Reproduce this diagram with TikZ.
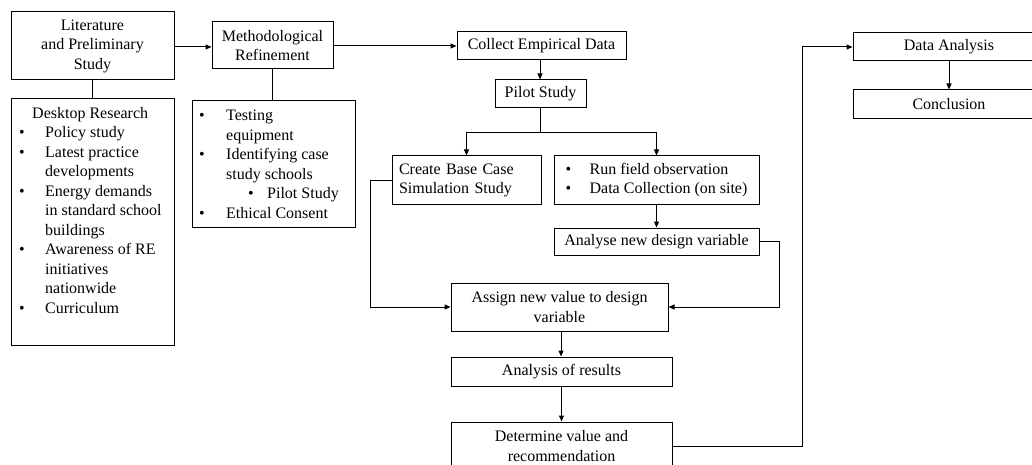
\documentclass[tikz,border=0pt]{standalone}
\usepackage{fontspec}
\setmainfont{Liberation Serif}
\usetikzlibrary{arrows.meta,calc}
\newcommand\bulx[1][25pt]{\makebox[#1][l]{\textbullet}}
\newcommand\indx[1][25pt]{\hspace*{#1}}
\begin{document}
\begin{tikzpicture}[x=1pt,y=-1pt,
 box/.style={draw, line width=1pt, inner sep=0pt, align=center, font=\fontsize{16}{19.5}\selectfont},
 txt/.style={inner sep=0pt, font=\fontsize{16}{19.5}\selectfont},
 arr/.style={line width=1pt, -{Triangle[length=6pt,width=5pt]}},
 ln/.style={line width=1pt}]
\useasboundingbox (0,0) rectangle (1032,465);
\clip (0,0) rectangle (1032,465);
% boxes
\node[box, minimum width=163pt, minimum height=68pt] (lit) at (92.5,46) {Literature\\and Preliminary\\Study};
\node[box, minimum width=121pt, minimum height=47pt] (meth) at (272.5,45.5) {Methodological\\Refinement};
\node[box, minimum width=163pt, minimum height=246pt] (desk) at (92.5,222) {};
\node[box, minimum width=163pt, minimum height=126pt] (methsub) at (273.5,164) {};
\node[txt, anchor=base west] (desktxt) at (19,118.5) {\begin{tabular}[t]{@{}l@{}}
\hspace*{13pt}Desktop Research\\
\bulx[26pt]Policy study\\
\bulx[26pt]Latest practice\\
\indx[26pt]developments\\
\bulx[26pt]Energy demands\\
\indx[26pt]in standard school\\
\indx[26pt]buildings\\
\bulx[26pt]Awareness of RE\\
\indx[26pt]initiatives\\
\indx[26pt]nationwide\\
\bulx[26pt]Curriculum
\end{tabular}};
\node[txt, anchor=base west] (methtxt) at (199,121) {\begin{tabular}[t]{@{}l@{}}
\bulx[27pt]Testing\\
\indx[27pt]equipment\\
\bulx[27pt]Identifying case\\
\indx[27pt]study schools\\
\hspace*{49pt}\bulx[19pt]Pilot Study\\
\bulx[27pt]Ethical Consent
\end{tabular}};
\node[box, minimum width=169pt, minimum height=28pt] (collect) at (541.5,46) {Collect Empirical Data};
\node[box, minimum width=91pt, minimum height=28pt] (pilot) at (540.5,94) {Pilot Study};
\node[box, text width=135pt, align=left, inner xsep=7pt, minimum height=48pt] (create) at (466.5,180) {\begin{tabular}{@{}l@{}}Create Base Case\\Simulation Study\end{tabular}};
\node[box, align=left, minimum width=205pt, minimum height=48pt] (run) at (656.5,180) {\bulx[24pt]Run field observation\\\bulx[24pt]Data Collection (on site)};
\node[box, minimum width=205pt, minimum height=27pt] (analyse) at (656.5,241.5) {Analyse new design variable};
\node[box, minimum width=217pt, minimum height=48pt] (assign) at (559.5,307) {Assign new value to design\\variable};
\node[box, minimum width=221pt, minimum height=29pt] (results) at (561.5,371.5) {Analysis of results};
\node[box, minimum width=221pt, minimum height=48pt] (det) at (561.5,446) {Determine value and\\recommendation};
\node[box, minimum width=192pt, minimum height=28pt] (data) at (949,47) {Data Analysis};
\node[box, minimum width=192pt, minimum height=29pt] (concl) at (949,104.5) {Conclusion};
\coordinate (turn) at (802,0);
% connectors
\draw[arr] (lit.east |- 0,47) -- (meth.west |- 0,47);
\draw[ln] (lit.south) -- (desk.north);
\draw[ln] (meth.south) -- (meth.south |- methsub.north);
\draw[arr] (meth.east |- 0,46) -- (collect.west |- 0,46);
\draw[arr] (collect.south -| 540,0) -- (pilot.north -| 540,0);
\draw[arr] (pilot.south) -- ++(0,24) -| (create.north);
\draw[arr] (pilot.south) -- ++(0,24) -| (run.north);
\draw[arr] (create.west) -- ++(-21,0) |- (assign.west);
\draw[arr] (run.south) -- (analyse.north);
\draw[arr] (analyse.east) -- ++(20,0) |- (assign.east);
\draw[arr] (assign.south -| 561,0) -- (results.north -| 561,0);
\draw[arr] (results.south) -- (det.north);
\draw[arr] (det.east) -- (det.east -| turn) |- (data.west);
\draw[arr] (data.south) -- (concl.north);
\end{tikzpicture}
\end{document}
